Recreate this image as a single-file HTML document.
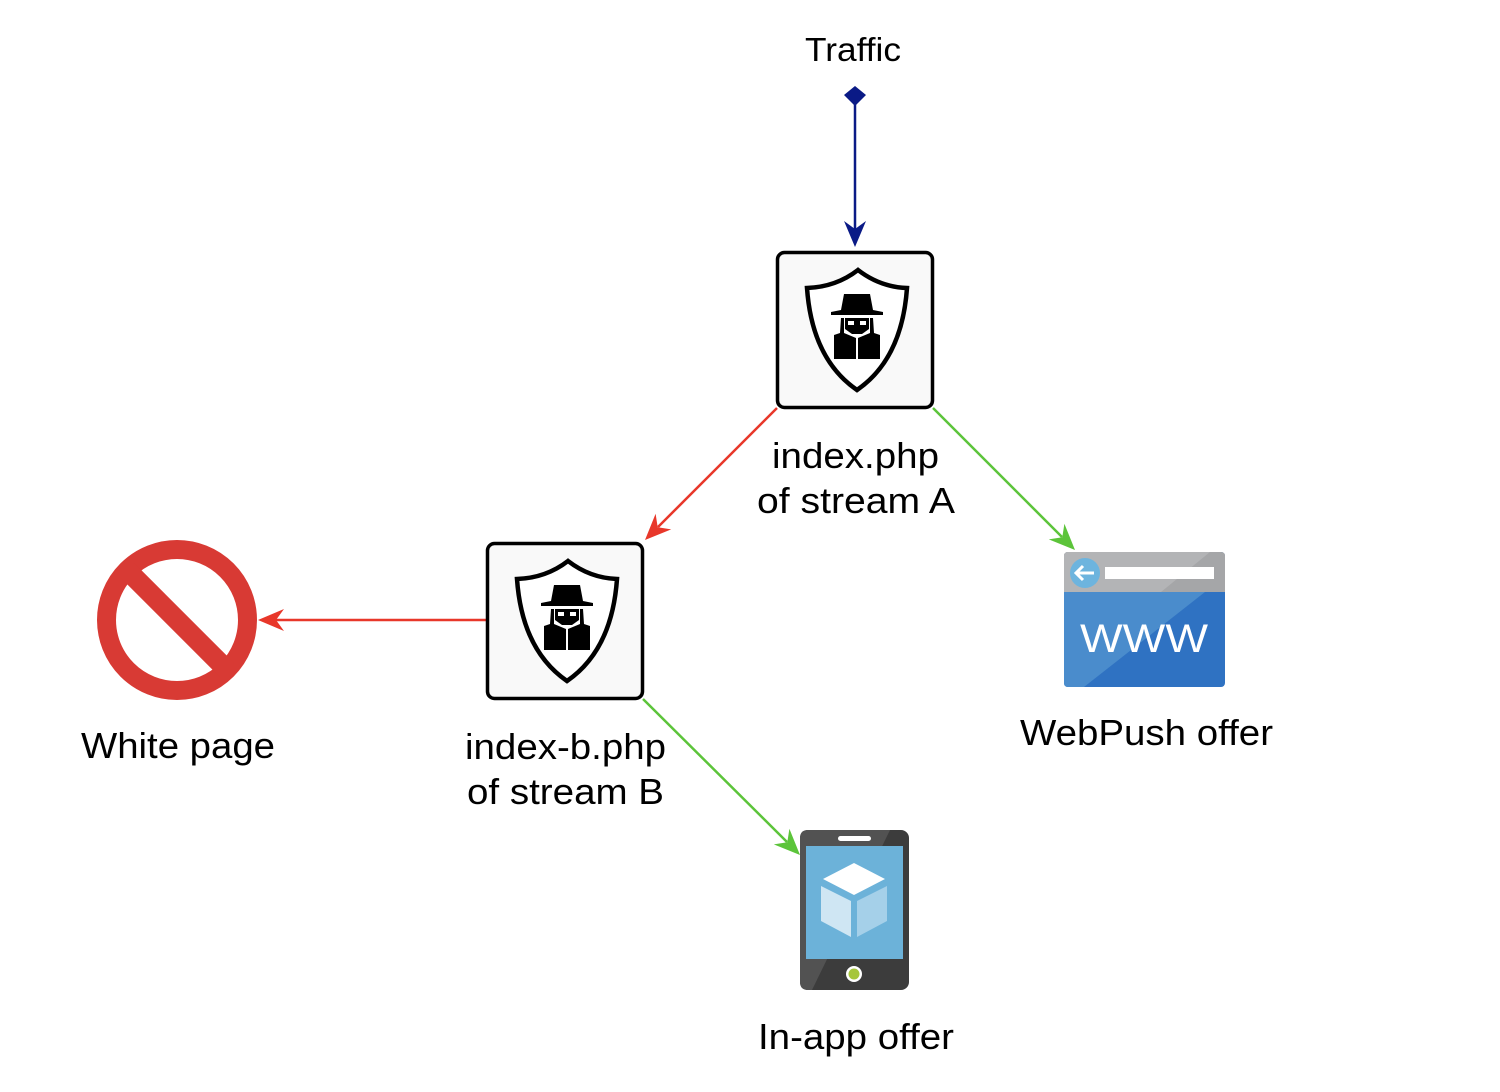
<!DOCTYPE html>
<html><head><meta charset="utf-8"><style>
html,body{margin:0;padding:0;background:#fff;}
svg{display:block;}
text{font-family:"Liberation Sans",Arial,sans-serif;fill:#000;}
</style></head><body>
<svg width="1500" height="1092" viewBox="0 0 1500 1092" xmlns="http://www.w3.org/2000/svg">
<defs>
<g id="spy">
  <rect x="1.5" y="1.5" width="155" height="155" rx="7" fill="#f9f9f9" stroke="#000" stroke-width="3.5"/>
  <path d="M82,19 Q60,36 31,37 Q36,108 81,139 Q126,108 131,37 Q104,36 82,19 Z" fill="#fff" stroke="#000" stroke-width="4.5" stroke-linejoin="miter"/>
  <path d="M68,43 L94,43 L97,59 L107,61 L107,64 L55,64 L55,61 L65,59 Z" fill="#000"/>
  <path d="M69,67 L93,67 L93,78 L86,83 L76,83 L69,78 Z" fill="#000"/>
  <rect x="72" y="70" width="6" height="4" fill="#fff"/>
  <rect x="84" y="70" width="6" height="4" fill="#fff"/>
  <path d="M65,67 L68,67 L68,82 L80,87 L80,108 L58,108 L58,84 L64,82 Z" fill="#000"/>
  <path d="M97,67 L94,67 L94,82 L82,87 L82,108 L104,108 L104,84 L98,82 Z" fill="#000"/>
</g>
</defs>

<line x1="855" y1="98" x2="855" y2="232" stroke="#0a1a86" stroke-width="2.5"/>
<path d="M855,86 L866,95 L855,106 L844,95 Z" fill="#0a1a86"/>
<path d="M855,247 L844,221 L855,229 L866,221 Z" fill="#0a1a86"/>

<line x1="777" y1="408" x2="658" y2="527" stroke="#e8372a" stroke-width="2.5"/>
<path d="M645,540 L671.2,529.4 L657.7,527.3 L655.6,513.8 Z" fill="#e8372a"/>

<line x1="933" y1="408" x2="1062" y2="537" stroke="#5cc43a" stroke-width="2.5"/>
<path d="M1075,550 L1048.8,539.4 L1062.3,537.3 L1064.4,523.8 Z" fill="#5cc43a"/>

<line x1="486" y1="620" x2="276" y2="620" stroke="#e8372a" stroke-width="2.5"/>
<path d="M258,620 L284,609 L276,620 L284,631 Z" fill="#e8372a"/>

<line x1="643" y1="699" x2="787" y2="842" stroke="#5cc43a" stroke-width="2.5"/>
<path d="M800,855 L773.8,844.4 L787.3,842.3 L789.4,828.8 Z" fill="#5cc43a"/>

<use href="#spy" x="776" y="251"/>
<use href="#spy" x="486" y="542"/>

<circle cx="177" cy="620" r="70.5" fill="none" stroke="#d83a34" stroke-width="19"/>
<line x1="127" y1="570" x2="227" y2="670" stroke="#d83a34" stroke-width="20"/>

<rect x="1064" y="552" width="161" height="135" rx="4" fill="#2f72c2"/>
<path d="M1064,592 L1205,592 L1084,687 L1068,687 Q1064,687 1064,683 Z" fill="#4a8ccc"/>
<path d="M1068,552 L1221,552 Q1225,552 1225,556 L1225,592 L1064,592 L1064,556 Q1064,552 1068,552 Z" fill="#a5a6a8"/>
<path d="M1068,552 L1210,552 L1161,592 L1064,592 L1064,556 Q1064,552 1068,552 Z" fill="#b3b4b6"/>
<circle cx="1085" cy="573" r="15" fill="#6db4de"/>
<path d="M1094,573 L1076,573 M1083,566 L1076,573 L1083,580" stroke="#fff" stroke-width="3" fill="none"/>
<rect x="1105" y="567" width="109" height="12" fill="#fff"/>
<text x="1144" y="652" font-size="40" text-anchor="middle" style="fill:#fff" textLength="128" lengthAdjust="spacingAndGlyphs">WWW</text>

<rect x="800" y="830" width="109" height="160" rx="8" fill="#3c3c3c"/>
<path d="M808,830 L890,830 L812,990 L808,990 Q800,990 800,982 L800,838 Q800,830 808,830 Z" fill="#525252"/>
<rect x="838" y="836" width="33" height="5" rx="2.5" fill="#fff"/>
<rect x="806" y="846" width="97" height="113" fill="#6cb2d9"/>
<path d="M854,863 L885,879 L854,895 L823,879 Z" fill="#fff"/>
<path d="M821,886 L851,901 L851,937 L821,921 Z" fill="#cfe6f3"/>
<path d="M857,901 L887,886 L887,921 L857,937 Z" fill="#a5d0e9"/>
<circle cx="854" cy="974" r="8" fill="#fff"/>
<circle cx="854" cy="974" r="5.5" fill="#a6c63b"/>

<text x="805" y="61" font-size="33" textLength="96" lengthAdjust="spacingAndGlyphs">Traffic</text>
<text x="772" y="468" font-size="36" textLength="167" lengthAdjust="spacingAndGlyphs">index.php</text>
<text x="757" y="513" font-size="36" textLength="198" lengthAdjust="spacingAndGlyphs">of stream A</text>
<text x="465" y="759" font-size="36" textLength="201" lengthAdjust="spacingAndGlyphs">index-b.php</text>
<text x="467" y="804" font-size="36" textLength="197" lengthAdjust="spacingAndGlyphs">of stream B</text>
<text x="81" y="758" font-size="36" textLength="194" lengthAdjust="spacingAndGlyphs">White page</text>
<text x="1020" y="745" font-size="36" textLength="253" lengthAdjust="spacingAndGlyphs">WebPush offer</text>
<text x="758" y="1049" font-size="36" textLength="196" lengthAdjust="spacingAndGlyphs">In-app offer</text>
</svg>
</body></html>
